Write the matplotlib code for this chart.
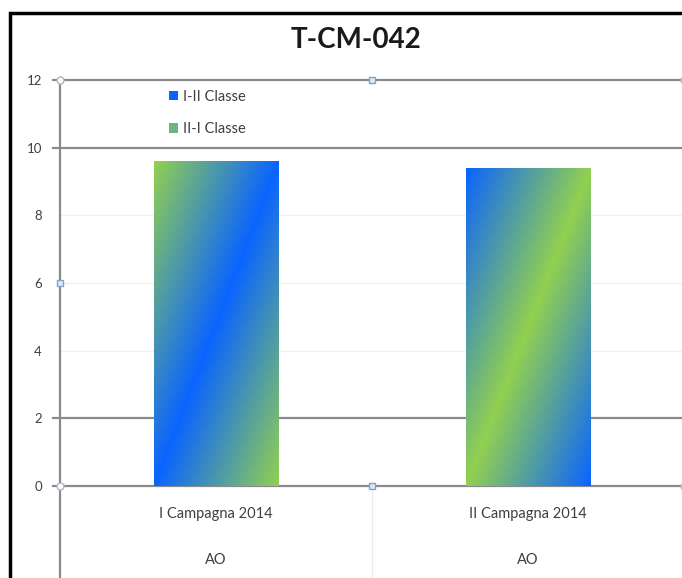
import numpy as np
import matplotlib
matplotlib.use("Agg")
import matplotlib.pyplot as plt
from matplotlib.patches import Rectangle, Patch
from matplotlib.colors import to_rgb
import matplotlib.transforms as mtransforms

plt.rcParams['font.family'] = ['Lato', 'DejaVu Sans']

# ---- data ----
categories = ["I Campagna 2014", "II Campagna 2014"]
groups = ["AO", "AO"]
values = [9.6, 9.4]
series_labels = ["I-II Classe", "II-I Classe"]
title = "T-CM-042"
yticks = [0, 2, 4, 6, 8, 10, 12]

BLUE = np.array(to_rgb("#0A64FF"))
GREEN = np.array(to_rgb("#92D050"))

W, H, DPI = 682, 578, 100
fig = plt.figure(figsize=(W / DPI, H / DPI), dpi=DPI)
fig.patch.set_facecolor("white")

# plot area in pixel terms: x 60..684, y 80..486 (top-down)
ax_l, ax_r, ax_t, ax_b = 60, 684, 80, 486
ax = fig.add_axes([ax_l / W, 1 - ax_b / H, (ax_r - ax_l) / W, (ax_b - ax_t) / H])
ax.set_xlim(-0.5, 1.5)
ax.set_ylim(0, 12)
for s in ax.spines.values():
    s.set_visible(False)

x = np.arange(len(categories))
bars = ax.bar(x, values, width=0.4, color="none", edgecolor="none", zorder=3)
ax.set_autoscale_on(False)

# diagonal gradient fill inside each bar
n = 200
u, v = np.meshgrid(np.linspace(0, 1, n), np.linspace(0, 1, n))
t = (u - v + 1) / 2.0
w_mid = 1 - np.abs(2 * t - 1)
for i, rect in enumerate(bars.patches):
    if i == 0:
        edge, mid = GREEN, BLUE
    else:
        edge, mid = BLUE, GREEN
    img = edge[None, None, :] * (1 - w_mid[..., None]) + mid[None, None, :] * w_mid[..., None]
    bx, by = rect.get_x(), rect.get_y()
    bw, bh = rect.get_width(), rect.get_height()
    im = ax.imshow(img, extent=(bx, bx + bw, by, by + bh), origin="lower",
                   aspect="auto", zorder=4, interpolation="bilinear")
    im.set_clip_path(rect)

# gridlines
dark = "#8a8a8a"
faint = "#f0f0f0"
tick_out = 7 / (ax_r - ax_l)
for yv in yticks:
    if yv in (0, 2, 10, 12):
        ax.axhline(yv, xmin=-tick_out, xmax=1, color=dark, lw=1.6, zorder=2, clip_on=False)
    else:
        ax.axhline(yv, color=faint, lw=1.0, zorder=1)

# vertical axis line continuing below into the category label area
below = (H - ax_b) / (ax_b - ax_t)
trans = mtransforms.blended_transform_factory(ax.transData, ax.transAxes)
ax.plot([-0.5, -0.5], [1, -below], transform=trans, color=dark, lw=1.6,
        clip_on=False, zorder=2)
ax.plot([0.5, 0.5], [0, -below], transform=trans, color="#ececec", lw=1.0,
        clip_on=False, zorder=1)

# selection handles
for hx, hy in [(-0.5, 12), (-0.5, 0), (1.5, 12), (1.5, 0)]:
    ax.plot(hx, hy, marker="o", ms=5, mfc="white", mec="#a8b8c8", mew=1.0,
            clip_on=False, zorder=6)
for hx, hy in [(0.5, 12), (0.5, 0), (-0.5, 6)]:
    ax.plot(hx, hy, marker="s", ms=4.5, mfc="#dce9f6", mec="#7fa3c8", mew=1.0,
            clip_on=False, zorder=6)

# y tick labels
ax.set_yticks(yticks)
ax.set_yticklabels([str(v) for v in yticks])
ax.tick_params(axis="y", length=0, pad=13, labelsize=9.5, labelcolor="#404040")

# category labels (two levels)
ax.set_xticks(x)
ax.set_xticklabels(categories)
ax.tick_params(axis="x", length=0, pad=15, labelsize=10.5, labelcolor="#404040")
for xi, g in zip(x, groups):
    ax.text(xi, -(560 - ax_b) / (ax_b - ax_t), g, transform=trans, ha="center",
            va="center", fontsize=10.5, color="#404040", clip_on=False)

# legend
handles = [Patch(facecolor=BLUE, edgecolor="none"),
           Patch(facecolor=(GREEN * 0.75 + BLUE * 0.25), edgecolor="none")]
leg = ax.legend(handles, series_labels, loc="upper left",
                bbox_to_anchor=((169 - ax_l) / (ax_r - ax_l), (ax_b - 90) / (ax_b - ax_t)),
                frameon=False, fontsize=10.5, handlelength=0.6, handleheight=0.6,
                handletextpad=0.35, labelspacing=1.25, borderpad=0, borderaxespad=0)
for txt in leg.get_texts():
    txt.set_color("#404040")

# title
fig.text(356 / W, 1 - 40 / H, title, ha="center", va="center",
         fontsize=20, fontweight="bold", color="#1a1a1a")

# outer chart frame
fig.patches.append(Rectangle((10 / W, -0.1), 1.2, 1 - 13 / H + 0.1,
                             transform=fig.transFigure, fill=False,
                             edgecolor="black", lw=2.5, zorder=10))

fig.savefig("out.png", dpi=DPI)
